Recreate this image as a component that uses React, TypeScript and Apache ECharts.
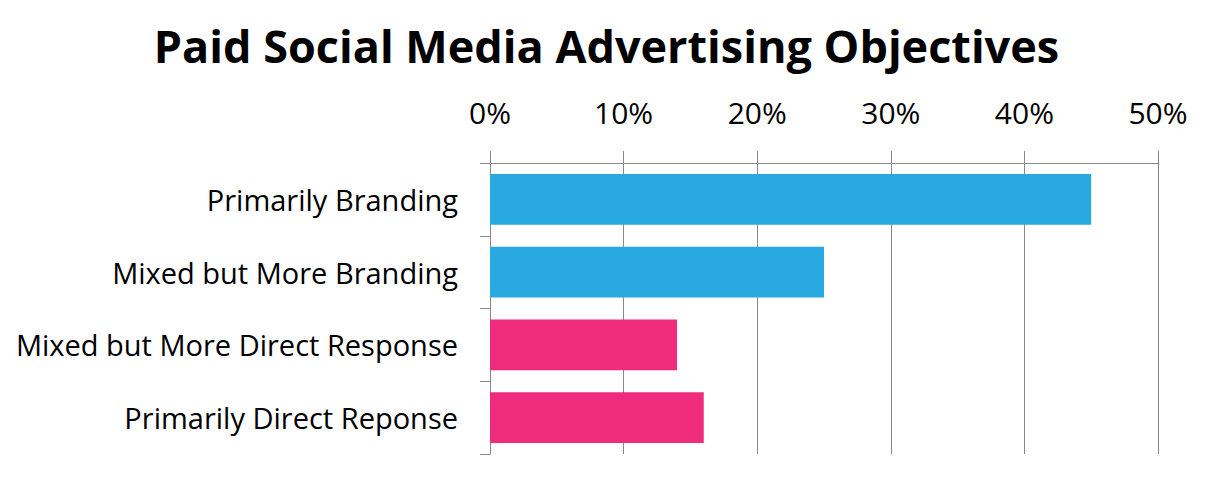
import React, { useEffect, useRef } from "react";
import * as echarts from "echarts";

const categories = [
  "Primarily Branding",
  "Mixed but More Branding",
  "Mixed but More Direct Response",
  "Primarily Direct Reponse",
];
const values = [45, 25, 14, 16];
const barColors = ["#29a9e1", "#29a9e1", "#ef2b7c", "#ef2b7c"];
const titleText = "Paid Social Media Advertising Objectives";

export default function App() {
  const ref = useRef<HTMLDivElement>(null);
  useEffect(() => {
    if (!ref.current) return;
    const chart = echarts.init(ref.current, undefined, { renderer: "svg" });
    const font = "Open Sans";
    chart.setOption({
      animation: false,
      title: {
        text: titleText,
        left: "center",
        top: 18,
        textStyle: { fontFamily: font, fontWeight: "bold", fontSize: 45, color: "#000" },
      },
      grid: { left: 490, right: 55, top: 163, bottom: 23, containLabel: false },
      xAxis: {
        type: "value",
        position: "top",
        min: 0,
        max: 50,
        interval: 10,
        axisLine: { show: true, lineStyle: { color: "#898989", width: 1 } },
        axisTick: { show: true, length: 12, lineStyle: { color: "#898989", width: 1 } },
        splitLine: { show: true, lineStyle: { color: "#898989", width: 1 } },
        axisLabel: {
          formatter: "{value}%",
          fontFamily: font,
          fontSize: 30,
          color: "#000",
          margin: 36,
        },
      },
      yAxis: {
        type: "category",
        inverse: true,
        data: categories,
        axisLine: { show: true, lineStyle: { color: "#898989", width: 1 } },
        axisTick: { show: true, length: 10, lineStyle: { color: "#898989", width: 1 } },
        splitLine: { show: false },
        axisLabel: { fontFamily: font, fontSize: 29, color: "#000", margin: 32 },
      },
      series: [
        {
          type: "bar",
          barCategoryGap: "30%",
          data: values.map((v, i) => ({ value: v, itemStyle: { color: barColors[i] } })),
        },
      ],
    });
    return () => chart.dispose();
  }, []);
  return <div ref={ref} style={{ width: 1213, height: 477, position: "absolute", left: 0, top: 0 }} />;
}
